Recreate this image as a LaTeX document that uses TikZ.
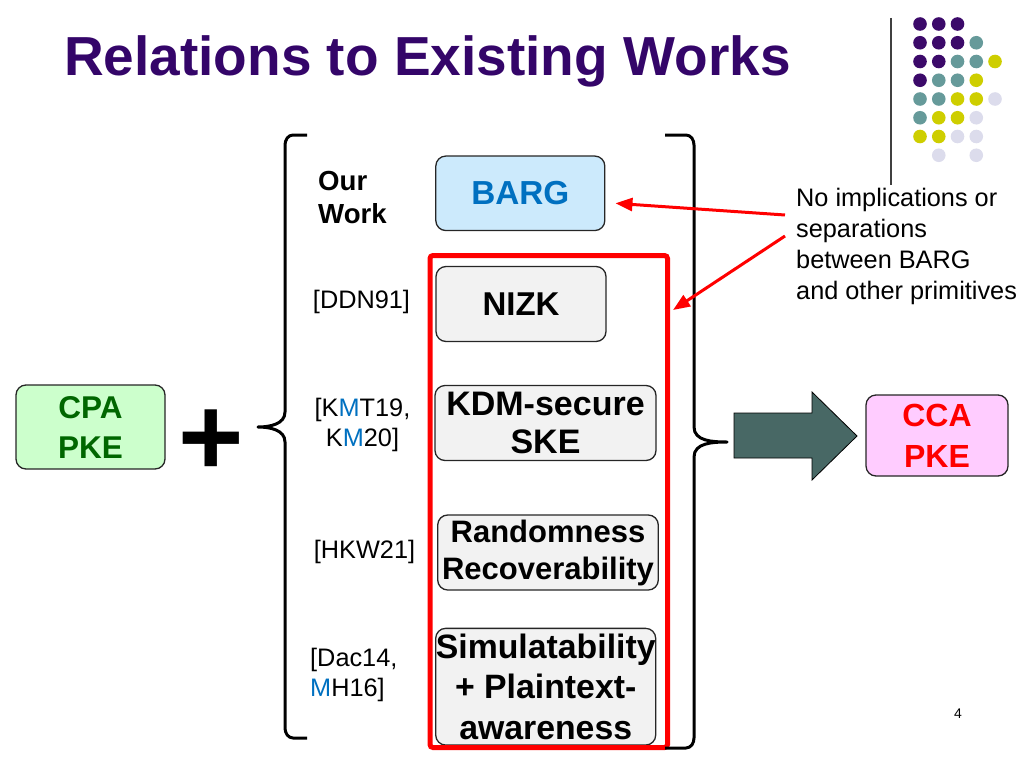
\documentclass[tikz,border=0pt]{standalone}
\usepackage{fontspec}
\setmainfont{Liberation Sans}
\usetikzlibrary{arrows.meta,positioning}
\definecolor{titlepurple}{RGB}{52,5,105}
\definecolor{dotP}{RGB}{60,10,106}
\definecolor{dotT}{RGB}{102,154,154}
\definecolor{dotY}{RGB}{206,206,0}
\definecolor{dotL}{RGB}{220,220,236}
\definecolor{cpagreen}{RGB}{204,255,204}
\definecolor{cpatext}{RGB}{0,102,0}
\definecolor{bargblue}{RGB}{204,234,252}
\definecolor{citeblue}{RGB}{0,112,192}
\definecolor{boxgray}{RGB}{242,242,242}
\definecolor{ccapink}{RGB}{255,204,255}
\definecolor{arrowfill}{RGB}{72,104,101}
\newcommand{\fsz}[2]{\fontsize{#1}{#2}\selectfont}

\begin{document}
\begin{tikzpicture}[x=1pt,y=-1pt,
  box/.style={draw=black!85, line width=1.3pt, rounded corners=10pt, inner sep=0pt, align=center},
  cite/.style={inner sep=0pt, font=\fsz{25.3}{30}},
  brace line/.style={line width=3pt, line join=round},
  redarrow/.style={draw=red, line width=3pt, -{Triangle[length=17pt,width=13pt]}}]
\useasboundingbox (0,0) rectangle (1024,768);

% title and the dots
\node (title) [anchor=base west, inner sep=0pt, text=titlepurple, font=\bfseries\fsz{55}{60}] at (64,75) {Relations to Existing Works};
\draw[line width=1.5pt, black!75] (891,18) -- (891,185);
\foreach \c/\r/\k in {0/0/dotP,1/0/dotP,2/0/dotP,
  0/1/dotP,1/1/dotP,2/1/dotP,3/1/dotT,
  0/2/dotP,1/2/dotP,2/2/dotT,3/2/dotT,4/2/dotY,
  0/3/dotP,1/3/dotT,2/3/dotT,3/3/dotY,
  0/4/dotT,1/4/dotT,2/4/dotY,3/4/dotY,4/4/dotL,
  0/5/dotT,1/5/dotY,2/5/dotY,3/5/dotL,
  0/6/dotY,1/6/dotY,2/6/dotL,3/6/dotL,
  1/7/dotL,3/7/dotL}
  \fill[\k] (920+18.75*\c,24+18.75*\r) circle (6.8);

% left side
\node (cpa) [box, fill=cpagreen, text=cpatext, minimum width=149pt, minimum height=84pt,
  font=\bfseries\fsz{31.5}{40}] at (90.5,427) {CPA\\PKE};
\node (plus) [inner sep=0pt, font=\bfseries\fsz{112}{112}] at (211,443) {+};

% primitives
\node (barg) [box, fill=bargblue, text=citeblue, minimum width=169pt, minimum height=74.5pt,
  font=\bfseries\fsz{33.3}{40}] at (520.3,193.3) {BARG};
\node (nizk) [box, fill=boxgray, minimum width=170pt, minimum height=75pt,
  font=\bfseries\fsz{33}{40}] at (521,304) {NIZK};
\node (kdm) [box, fill=boxgray, minimum width=221pt, minimum height=75pt,
  font=\bfseries\fsz{34}{38}] at (545.5,423) {KDM-secure\\SKE};
\node (rr) [box, fill=boxgray, minimum width=220.6pt, minimum height=75pt,
  font=\bfseries\fsz{31}{37}] at (548,552.5) {Randomness\\Recoverability};
\node (sim) [box, fill=boxgray, minimum width=220pt, minimum height=116.7pt,
  font=\bfseries\fsz{33.8}{40.5}] at (545.7,686.7) {Simulatability\\+ Plaintext-\\awareness};
\node (frame) [draw=red, line width=5pt, rounded corners=3pt, inner sep=0pt,
  minimum width=237.5pt, minimum height=492pt] at (548.75,501.5) {};

% citations
\node (our) [anchor=west, inner sep=0pt, align=left, font=\bfseries\fsz{27.6}{33}] at (318,197) {Our\\Work};
\node (ddn) [cite] at (361.5,302) {[DDN91]};
\node (kmt) [cite, align=center] at (362.5,425) {[K\textcolor{citeblue}{M}T19,\\K\textcolor{citeblue}{M}20]};
\node (hkw) [cite] at (364.5,552) {[HKW21]};
\node (dac) [cite, anchor=west, align=left] at (310,675) {[Dac14,\\\textcolor{citeblue}{M}H16]};

% braces
\draw[brace line] (307,135) -- (293,135) to[out=180,in=90] (285,145) -- (285,412)
  to[out=-90,in=0] (258,427) to[out=0,in=90] (285,442) -- (285,728)
  to[out=-90,in=180] (293,738) -- (307,738);
\draw[brace line] (665,135) -- (686,135) to[out=0,in=90] (694,145) -- (694,427)
  to[out=-90,in=180] (727,442) to[out=180,in=90] (694,457) -- (694,738)
  to[out=-90,in=0] (686,748) -- (665,748);

% result
\fill[arrowfill, draw=black, line width=0.8pt] (734,413) -- (812,413) -- (812,392) -- (857,436)
  -- (812,480) -- (812,458) -- (734,458) -- cycle;
\node (cca) [box, fill=ccapink, text=red, minimum width=142pt, minimum height=81pt,
  font=\bfseries\fsz{32}{41}] at (937,435.5) {CCA\\PKE};

% remark
\node (note) [anchor=west, inner sep=0pt, align=left, font=\fsz{25.3}{31}] at (796,246.5)
  {No implications or\\separations\\between BARG\\and other primitives};
\coordinate (n1) at (785,215);
\coordinate (n2) at (785,236);
\draw[redarrow] (n1) -- ([shift={(10,10)}]barg.east);
\draw[redarrow] (n2) -- ([shift={(3,57)}]frame.north east);

\node (page) [inner sep=0pt, font=\fsz{14}{16}] at (958,714) {4};
\end{tikzpicture}
\end{document}
